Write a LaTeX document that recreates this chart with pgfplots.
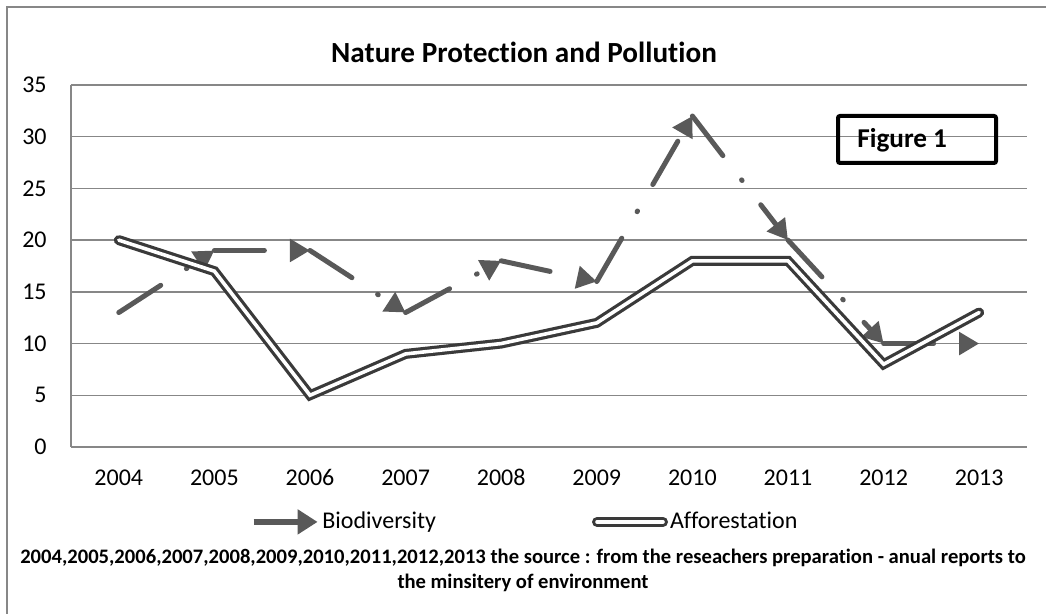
\documentclass[border=0pt]{standalone}
\usepackage{fontspec}
\setmainfont{Carlito}[Ligatures=NoCommon]
\usepackage{pgfplots}
\pgfplotsset{compat=1.18}
\usetikzlibrary{arrows.meta}
\definecolor{bio}{HTML}{595959}
\definecolor{aff}{HTML}{3A3A3A}
\definecolor{gridc}{HTML}{878787}
\tikzset{
  biostyle/.style={bio, line width=2.5pt, line cap=round,
    dash pattern=on 25pt off 15.3pt on 0.4pt off 15.3pt,
    -{Triangle[length=10pt,width=11pt]}},
  affstyle/.style={draw=aff, line width=1.6pt, double=white, double distance=1.8pt, line cap=round}
}
\begin{document}
\begin{tikzpicture}
\useasboundingbox (0,0) rectangle (523pt,307pt);
\draw[gridc, line width=0.75pt] (3.5pt,0pt) -- (3.5pt,303.5pt) -- (523pt,303.5pt);
\node[font=\bfseries\fontsize{14.6}{17}\selectfont] at (262pt,281pt) {Nature Protection and Pollution};
\begin{axis}[
  at={(35.5pt,83.5pt)}, anchor=south west,
  width=478pt, height=181pt, scale only axis,
  xmin=-0.5, xmax=9.5, ymin=0, ymax=35,
  xtick={0,...,9},
  xticklabels={2004,2005,2006,2007,2008,2009,2010,2011,2012,2013},
  ytick={0,5,...,35},
  /pgf/number format/assume math mode=true,
  axis x line*=bottom, axis y line*=left,
  axis line style={gridc, line width=0.75pt, -},
  ymajorgrids, major grid style={gridc, line width=0.75pt},
  major tick length=0pt,
  tick label style={font=\fontsize{12}{14}\selectfont},
  xticklabel style={anchor=base, inner sep=0pt, yshift=-19.5pt},
  yticklabel style={anchor=east, inner sep=0pt, xshift=-12pt},
  clip=false,
  legend style={at={(0.475,-0.207)}, anchor=center, draw=none, fill=none,
    font=\fontsize{12}{14}\selectfont, nodes={inner sep=1pt},
    /tikz/every even column/.append style={column sep=77pt}},
  legend columns=2,
]
\addplot[biostyle, forget plot] coordinates {(0,13) (1,19)};
\addplot[biostyle, forget plot] coordinates {(1,19) (2,19)};
\addplot[biostyle, forget plot] coordinates {(2,19) (3,13)};
\addplot[biostyle, forget plot] coordinates {(3,13) (4,18)};
\addplot[biostyle, forget plot] coordinates {(4,18) (5,16)};
\addplot[biostyle, forget plot] coordinates {(5,16) (6,32)};
\addplot[biostyle, forget plot] coordinates {(6,32) (7,20)};
\addplot[biostyle, forget plot] coordinates {(7,20) (8,10)};
\addplot[biostyle, forget plot] coordinates {(8,10) (9,10)};
\addlegendimage{legend image code/.code={\draw[bio, line width=2.8pt, -{Triangle[length=10pt,width=12pt]}] (0pt,0pt) -- (32pt,0pt);}}
\addlegendentry{Biodiversity}
\addplot[affstyle, legend image code/.code={\draw[affstyle] (0pt,0pt) -- (33pt,0pt);}] coordinates {
(0,20) (1,17) (2,5) (3,9) (4,10) (5,12) (6,18) (7,18) (8,8) (9,13)};
\addlegendentry{Afforestation}
\end{axis}
\draw[black, line width=2pt, rounded corners=1pt] (419pt,249pt) rectangle (498pt,225.5pt);
\node[anchor=west, inner sep=0pt, font=\bfseries\fontsize{13.6}{16}\selectfont] at (428.5pt,237pt) {Figure 1};
\node[align=center, font=\bfseries\fontsize{10.3}{12.5}\selectfont] at (261.5pt,22pt)
{2004,2005,2006,2007,2008,2009,2010,2011,2012,2013 the source : from the reseachers preparation - anual reports to\\ the minsitery of environment};
\end{tikzpicture}
\end{document}
